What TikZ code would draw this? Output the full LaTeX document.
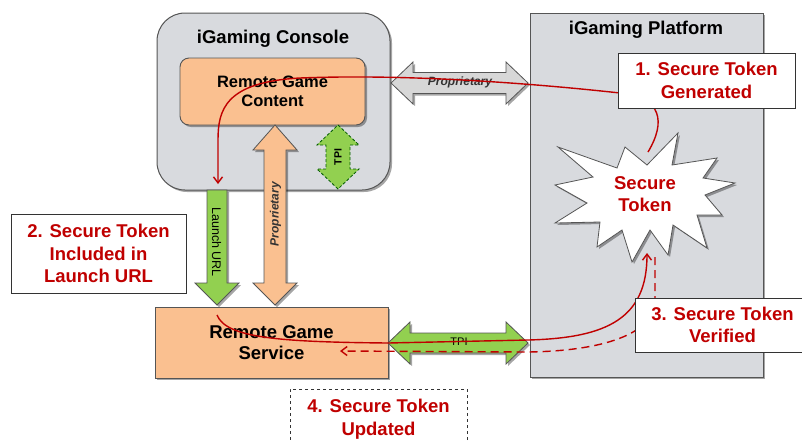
\documentclass[tikz,border=0pt]{standalone}
\usepackage{fontspec}
\setmainfont{Liberation Sans}
\usetikzlibrary{arrows.meta,shadows}
\definecolor{redtxt}{RGB}{192,0,0}
\definecolor{panel}{RGB}{216,218,222}
\definecolor{orng}{RGB}{250,192,144}
\definecolor{grn}{RGB}{146,208,80}
\definecolor{edgec}{RGB}{85,85,85}
\definecolor{grayarrow}{RGB}{215,215,215}
\begin{document}
\begin{tikzpicture}[x=1pt,y=-1pt,
  shad/.style={drop shadow={shadow xshift=2pt,shadow yshift=-2pt,opacity=0.35,fill=black}},
  panelbox/.style={draw=edgec,line width=1pt,fill=panel,shad},
  orangebox/.style={draw=edgec,line width=0.9pt,fill=orng,shad,align=center,font=\fontsize{18.5}{21}\selectfont\bfseries},
  titletxt/.style={font=\fontsize{18.5}{22}\selectfont\bfseries},
  redlbl/.style={draw=black!80,line width=0.8pt,fill=white,text=redtxt,align=center,inner sep=0pt,font=\fontsize{18.5}{22.5}\selectfont\bfseries},
  arrowtxt/.style={font=\fontsize{12}{14}\selectfont\bfseries\itshape,text=black!80},
  redline/.style={draw=redtxt,line width=1.4pt},
  redhead/.style={-{Straight Barb[length=6pt,width=9pt]}},
  grnarrow/.style={draw=edgec,line width=0.8pt,fill=grn,shad},
  orgarrow/.style={draw=edgec,line width=0.8pt,fill=orng,shad},
  gryarrow/.style={draw=edgec,line width=0.8pt,fill=grayarrow,shad}
]
\clip (0,0) rectangle (802,440);

% platform
\node[panelbox,minimum width=233pt,minimum height=364pt,inner sep=0pt] (platform) at (646.5,195) {};
\node[titletxt] (ptitle) at (646,30) {iGaming Platform};

% console
\node[panelbox,rounded corners=28pt,minimum width=233pt,minimum height=177pt,inner sep=0pt] (console) at (273.5,101.5) {};
\node[titletxt] (ctitle) at (273,39) {iGaming Console};

% remote game content
\node[orangebox,rounded corners=9pt,minimum width=185pt,minimum height=67pt,inner sep=0pt,font=\fontsize{16.5}{19}\selectfont\bfseries] (rgc) at (272.5,91.5) {Remote Game\\Content};

% proprietary horizontal gray double arrow
\draw[gryarrow] (391,83) -- (413,62) -- (413,72.5) -- (506,72.5) -- (506,62) -- (528,83) -- (506,104) -- (506,93.5) -- (413,93.5) -- (413,104) -- cycle;
\node[arrowtxt] (propH) at (460,82) {Proprietary};

% TPI dashed vertical double arrow
\draw[draw=green!35!black,line width=0.8pt,fill=grn,dash pattern=on 3pt off 2pt] (338,125) -- (359,145) -- (350,145) -- (350,169) -- (359,169) -- (338,189) -- (317,169) -- (326,169) -- (326,145) -- (317,145) -- cycle;
\node[font=\fontsize{10.5}{12}\selectfont\bfseries,rotate=90] (tpiV) at (338,157) {TPI};

% launch URL single arrow
\draw[grnarrow] (207,190) -- (227,190) -- (227,283) -- (239,283) -- (217,305) -- (195,283) -- (207,283) -- cycle;
\node[font=\fontsize{12.5}{14}\selectfont,rotate=-90] (launch) at (216.5,242) {Launch URL};

% proprietary vertical orange double arrow
\draw[orgarrow] (275,125) -- (297,150) -- (286,150) -- (286,283) -- (297,283) -- (275,305) -- (253,283) -- (264,283) -- (264,150) -- (253,150) -- cycle;
\node[arrowtxt,rotate=90] (propV) at (275.5,214) {Proprietary};

% remote game service
\node[orangebox,minimum width=233pt,minimum height=71pt,inner sep=0pt] (rgs) at (271.5,342.5) {Remote Game\\Service};

% TPI horizontal green double arrow
\draw[grnarrow] (388,343) -- (410,322) -- (410,333) -- (506,333) -- (506,322) -- (528,343) -- (506,364) -- (506,353) -- (410,353) -- (410,364) -- cycle;
\node[font=\fontsize{11}{12}\selectfont] (tpiH) at (459,342) {TPI};

% secure token burst
\draw[draw=edgec,line width=0.8pt,fill=white,shad] (558,147) -- (617,168) -- (625,147) -- (647,165) -- (678,133) -- (672,165) -- (717,158) -- (703,178) -- (735,183) -- (705,195) -- (722,215) -- (697,215) -- (707,248) -- (673,225) -- (668,255) -- (650,230) -- (632,262) -- (622,230) -- (597,247) -- (600,222) -- (555,223) -- (587,203) -- (555,185) -- (593,177) -- cycle;
\node[text=redtxt,align=center,font=\fontsize{18.5}{22}\selectfont\bfseries] (token) at (645,194) {Secure\\Token};

% red flows
\coordinate (c1a) at (648,152);
\coordinate (c1b) at (620,93);
\coordinate (c1c) at (218,184);
\draw[redline,redhead] (c1a) .. controls (666,122) and (662,97) .. (c1b) .. controls (520,82) and (400,74) .. (300,78) .. controls (225,82) and (218,110) .. (218,140) -- (c1c);

\coordinate (c2a) at (217,315);
\coordinate (c2b) at (647,253);
\draw[redline,redhead] (c2a) .. controls (226,338) and (280,342) .. (388,343) -- (528,340) .. controls (608,338) and (647,318) .. (c2b);

\coordinate (c3a) at (655,257);
\coordinate (c3b) at (340,351);
\draw[redline,redhead,dash pattern=on 8pt off 5pt] (c3a) -- (655,300) .. controls (655,335) and (600,351) .. (528,352) -- (c3b);

% labels
\node[redlbl,minimum width=177pt,minimum height=55pt] (l1) at (706.5,80.5) {1. Secure Token\\Generated};
\node[redlbl,minimum width=175pt,minimum height=79pt] (l2) at (98.5,253.5) {2. Secure Token\\Included in\\Launch URL};
\node[redlbl,minimum width=175pt,minimum height=54pt] (l3) at (722.5,325) {3. Secure Token\\Verified};
\node[redlbl,dashed,draw=black!80,minimum width=177pt,minimum height=60pt] (l4) at (378.5,419) {4. Secure Token\\Updated};
\end{tikzpicture}
\end{document}
